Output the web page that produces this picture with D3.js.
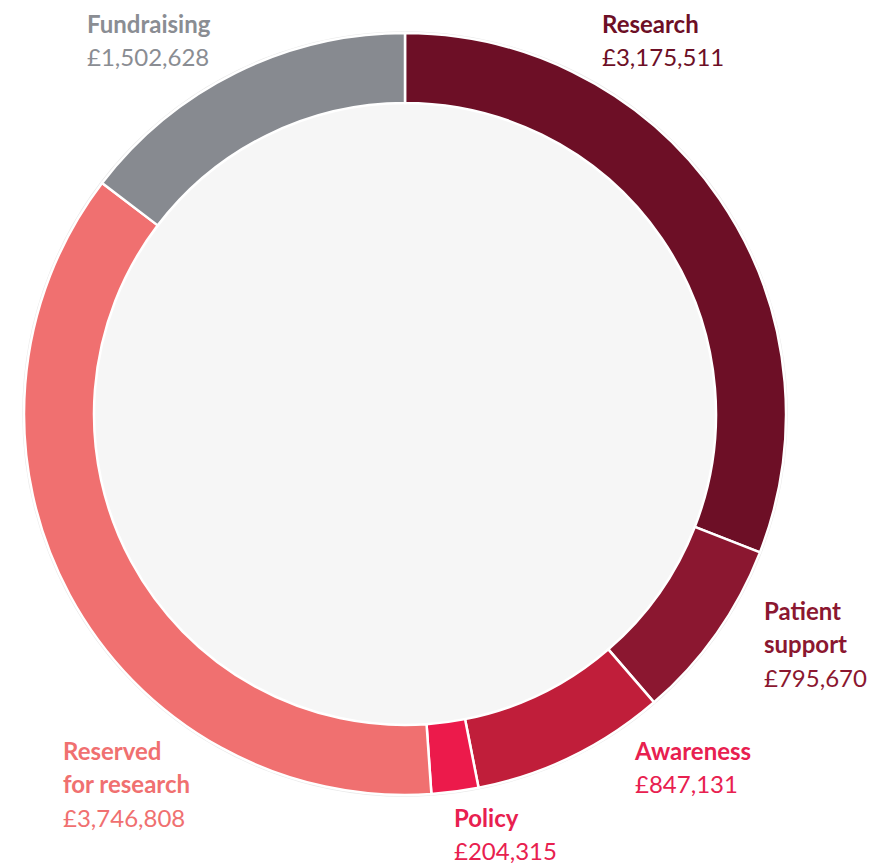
<!DOCTYPE html>
<html>
<head>
<meta charset="utf-8">
<script src="https://cdn.jsdelivr.net/npm/d3@7"></script>
<style>
  body { margin: 0; background: #fff; }
  svg { display: block; font-family: Lato, sans-serif; }
</style>
</head>
<body>
<svg id="chart"></svg>
<script>
let width = 869;
let height = 863;

// data
let categories = ['Research', 'Patient support', 'Awareness', 'Policy', 'Reserved for research', 'Fundraising'];
let values = [3175511, 795670, 847131, 204315, 3746808, 1502628];
let labelLines = [['Research'], ['Patient', 'support'], ['Awareness'], ['Policy'], ['Reserved', 'for research'], ['Fundraising']];

// colours
let sliceColors = ['#6d0f26', '#8b1730', '#c01e3a', '#ec1a4b', '#f07070', '#878a90'];
let textColors = ['#6d0f26', '#8b1730', '#e8204f', '#e8204f', '#f07070', '#8a8d93'];

// where each label sits (left x, first baseline)
let labelPos = [[602, 33], [764, 620], [635, 760], [454, 827], [63, 760], [87, 33]];

const cx = 405, cy = 414;
const outerR = 381, innerR = 311;

const svg = d3.select('#chart')
    .attr('width', width)
    .attr('height', height);

const g = svg.append('g')
    .attr('transform', `translate(${cx},${cy})`);

// faint rim + inner disc
g.append('circle')
    .attr('r', outerR + 1)
    .attr('fill', 'none')
    .attr('stroke', '#e9e9e9')
    .attr('stroke-width', 1.5);

g.append('circle')
    .attr('r', innerR)
    .attr('fill', '#f6f6f6');

const pie = d3.pie().sort(null).value(d => d);
const arc = d3.arc().innerRadius(innerR).outerRadius(outerR);

g.selectAll('path.slice')
    .data(pie(values))
    .join('path')
    .attr('class', 'slice')
    .attr('d', arc)
    .attr('fill', (d, i) => sliceColors[i])
    .attr('stroke', '#fff')
    .attr('stroke-width', 2.5);

const fmt = d3.format(',');
const lineH = 33.3;

const labels = svg.append('g')
    .selectAll('text')
    .data(categories)
    .join('text')
    .attr('x', (d, i) => labelPos[i][0])
    .attr('y', (d, i) => labelPos[i][1])
    .attr('fill', (d, i) => textColors[i])
    .style('font-size', '24px');

labels.each(function(d, i) {
    const t = d3.select(this);
    labelLines[i].forEach((line, j) => {
        t.append('tspan')
            .attr('x', labelPos[i][0])
            .attr('dy', j === 0 ? 0 : lineH)
            .style('font-weight', 'bold')
            .text(line);
    });
    t.append('tspan')
        .attr('x', labelPos[i][0])
        .attr('dy', lineH)
        .text('£' + fmt(values[i]));
});
</script>
</body>
</html>
